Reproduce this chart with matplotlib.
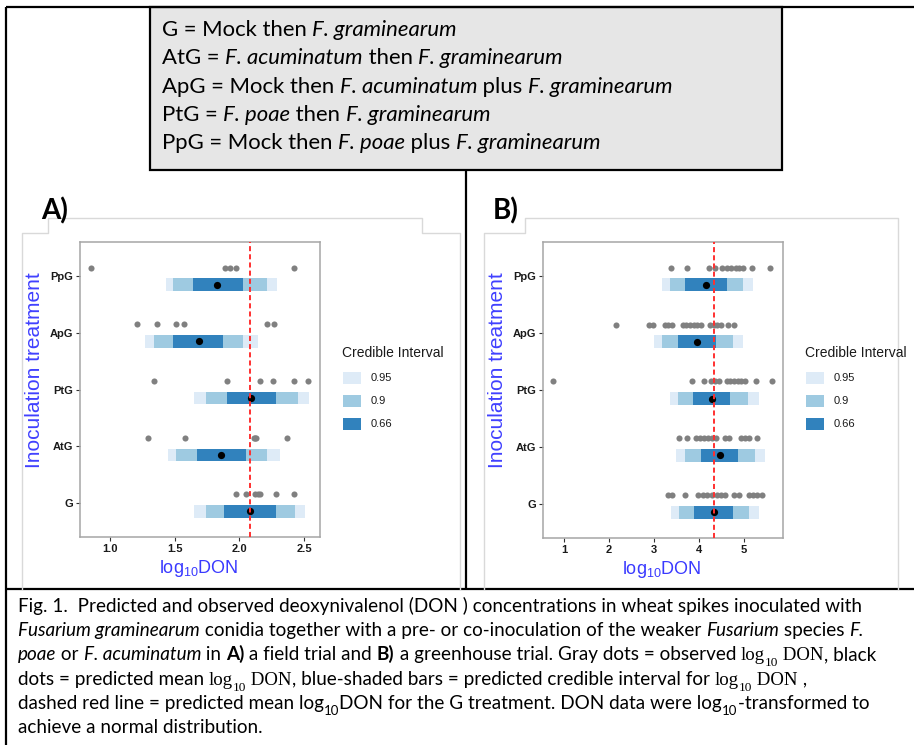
import matplotlib

matplotlib.use("Agg")
import matplotlib.pyplot as plt
from matplotlib.patches import Rectangle

W, H = 914, 745

treatments = ["G", "AtG", "PtG", "ApG", "PpG"]
levels = ["0.95", "0.9", "0.66"]
band_colors = ["#deebf7", "#9ecae1", "#3182bd"]

# A) field trial
field_mean = [2.08, 1.86, 2.09, 1.69, 1.83]
field_ci95 = [(1.65, 2.51), (1.45, 2.31), (1.65, 2.54), (1.27, 2.14), (1.43, 2.29)]
field_ci90 = [(1.74, 2.43), (1.51, 2.21), (1.74, 2.45), (1.34, 2.03), (1.49, 2.21)]
field_ci66 = [(1.88, 2.28), (1.67, 2.05), (1.90, 2.28), (1.49, 1.87), (1.64, 2.03)]
field_obs = {
    "G": [1.97, 2.05, 2.12, 2.14, 2.16, 2.28, 2.42],
    "AtG": [1.29, 1.58, 2.11, 2.12, 2.13, 2.37],
    "PtG": [1.34, 1.90, 2.16, 2.26, 2.42, 2.53],
    "ApG": [1.21, 1.36, 1.51, 1.57, 2.21, 2.27],
    "PpG": [0.85, 1.89, 1.93, 1.97, 2.42],
}
field_ref = 2.08
field_ticks = [1.0, 1.5, 2.0, 2.5]

# B) greenhouse trial
gh_mean = [4.33, 4.46, 4.29, 3.95, 4.16]
gh_ci95 = [(3.37, 5.33), (3.50, 5.46), (3.35, 5.33), (3.01, 4.98), (3.17, 5.20)]
gh_ci90 = [(3.55, 5.11), (3.70, 5.24), (3.53, 5.09), (3.18, 4.76), (3.35, 4.99)]
gh_ci66 = [(3.90, 4.76), (4.05, 4.88), (3.87, 4.70), (3.53, 4.39), (3.70, 4.62)]
gh_obs = {
    "G": [3.31, 3.41, 3.68, 3.99, 4.09, 4.19, 4.30, 4.40, 4.50, 4.59, 4.79, 4.89,
          5.11, 5.20, 5.30, 5.41],
    "AtG": [3.55, 3.73, 3.93, 4.02, 4.11, 4.20, 4.29, 4.38, 4.57, 4.66, 4.93, 5.03,
            5.12, 5.29],
    "PtG": [0.76, 3.85, 4.12, 4.28, 4.36, 4.44, 4.62, 4.70, 4.78, 4.86, 4.94, 5.02,
            5.27, 5.62],
    "ApG": [2.16, 2.90, 2.97, 3.24, 3.31, 3.40, 3.65, 3.72, 3.80, 3.88, 3.96, 4.04,
            4.24, 4.33, 4.41, 4.50, 4.64, 4.79],
    "PpG": [3.39, 3.74, 4.22, 4.35, 4.52, 4.62, 4.72, 4.82, 4.90, 4.98, 5.19, 5.59],
}
gh_ref = 4.33
gh_ticks = [1, 2, 3, 4, 5]

key_lines = [
    [("G = Mock then ", ""), ("F. graminearum", "i")],
    [("AtG = ", ""), ("F. acuminatum", "i"), (" then ", ""), ("F. graminearum", "i")],
    [("ApG = Mock then ", ""), ("F. acuminatum", "i"), (" plus ", ""), ("F. graminearum", "i")],
    [("PtG = ", ""), ("F. poae", "i"), (" then ", ""), ("F. graminearum", "i")],
    [("PpG = Mock then ", ""), ("F. poae", "i"), (" plus ", ""), ("F. graminearum", "i")],
]

caption_lines = [
    [("Fig. 1.  Predicted and observed deoxynivalenol (DON ) concentrations in wheat spikes inoculated with", "")],
    [("Fusarium graminearum", "i"), (" conidia together with a pre- or co-inoculation of the weaker ", ""),
     ("Fusarium", "i"), (" species ", ""), ("F.", "i")],
    [("poae", "i"), (" or ", ""), ("F. acuminatum", "i"), (" in ", ""), ("A)", "b"),
     (" a field trial and ", ""), ("B)", "b"), (" a greenhouse trial. Gray dots = observed ", ""),
     ("log", "s"), ("10", "s_"), (" DON", "s"), (", black", "")],
    [("dots = predicted mean ", ""), ("log", "s"), ("10", "s_"), (" DON", "s"),
     (", blue-shaded bars = predicted credible interval for ", ""), ("log", "s"), ("10", "s_"),
     (" DON", "s"), (" ,", "")],
    [("dashed red line = predicted mean log", ""), ("10", "_"),
     ("DON for the G treatment. DON data were log", ""), ("10", "_"), ("-transformed to", "")],
    [("achieve a normal distribution.", "")],
]

plt.rcParams["font.family"] = ["Liberation Sans", "DejaVu Sans"]
plt.rcParams["mathtext.fontset"] = "custom"
plt.rcParams["mathtext.rm"] = "Liberation Sans"
plt.rcParams["mathtext.it"] = "Liberation Sans:italic"

fig = plt.figure(figsize=(W / 100, H / 100), dpi=100)
bg = fig.add_axes([0, 0, 1, 1], zorder=-1)
bg.set_xlim(0, W)
bg.set_ylim(H, 0)
bg.axis("off")
renderer = fig.canvas.get_renderer()


def text_width(t):
    return t.get_window_extent(renderer).width


def rich_line(x, y, parts, size, family="Lato"):
    for s, style in parts:
        kw = dict(fontsize=size, family=family, va="baseline", ha="left")
        dy = 0
        if "i" in style:
            kw["style"] = "italic"
        if "b" in style:
            kw["weight"] = "bold"
        if "s" in style:
            kw["family"] = "Liberation Serif"
        if "_" in style:
            kw["fontsize"] = size * 0.7
            dy = size * 0.32 * 100 / 72
        probe = bg.text(0, 0, s + "|", **kw)
        pb = bg.text(0, 0, "|", **kw)
        w = text_width(probe) - text_width(pb)
        probe.remove()
        pb.remove()
        bg.text(x, y + dy, s, **kw)
        x += w


def seg(xs, ys, **kw):
    bg.plot(xs, ys, **kw)


# outer frame lines
black = dict(color="black", lw=1.6, solid_capstyle="butt")
seg([6, W], [7, 7], **black)
seg([6, 6], [7, H], **black)
seg([466, 466], [170, 589], **black)
seg([6, W], [589, 589], **black)
bg.add_patch(Rectangle((150, 7), 632, 163, facecolor="#e6e6e6", edgecolor="black", lw=1.6))

for i, line in enumerate(key_lines):
    rich_line(162, 36 + i * 28.3, line, 15.9)

# light frames of the pasted plot images
light = dict(color="#d9d9d9", lw=1.0)
seg([22, 22, 48, 48, 422, 422, 460, 460], [589, 233, 233, 218, 218, 233, 233, 589], **light)
seg([484, 484, 525, 525, 898, 898], [589, 233, 233, 218, 218, 589], **light)

bg.text(41, 219, "A)", fontsize=20, family="Lato", weight="bold", va="baseline")
bg.text(493, 219, "B)", fontsize=20, family="Lato", weight="bold", va="baseline")

for i, line in enumerate(caption_lines):
    rich_line(18, 612 + i * 24.2, line, 13.6)


def draw_panel(rect, means, ci95, ci90, ci66, obs, ref, xlim, ticks, ticklabels):
    ax = fig.add_axes(rect)
    ypos = list(range(1, len(treatments) + 1))
    for y, name in zip(ypos, treatments):
        vals = obs[name]
        ax.plot(vals, [y + 0.15] * len(vals), "o", color="#808080", ms=4.4, mec="none", zorder=2)
    low_y = [y - 0.15 for y in ypos]
    for ci, col in zip((ci95, ci90, ci66), band_colors):
        lo = [c[0] for c in ci]
        hi = [c[1] for c in ci]
        ax.barh(low_y, [h - l for l, h in zip(lo, hi)], left=lo, height=0.22, color=col, zorder=3)
    ax.plot(means, low_y, "o", color="black", ms=5.2, mec="none", zorder=4)
    ax.axvline(ref, color="#ff3030", ls=(0, (2.6, 1.6)), lw=1.4, zorder=5)
    ax.set_xlim(*xlim)
    ax.set_ylim(0.4, 5.6)
    ax.set_yticks(ypos, treatments)
    ax.set_xticks(ticks, ticklabels)
    for lab in ax.get_xticklabels() + ax.get_yticklabels():
        lab.set_fontweight("bold")
        lab.set_fontsize(8)
        lab.set_color("#1a1a1a")
    ax.tick_params(length=3, width=0.8, color="#333333", pad=2)
    for sp in ax.spines.values():
        sp.set_color("#a6a6a6")
        sp.set_linewidth(1.1)
    ax.set_xlabel(r"log$_{\mathrm{10}}$DON", fontsize=13, color="#3a3aff")
    ax.xaxis.set_label_coords(0.496, -0.07)
    ax.set_ylabel("Inoculation treatment", fontsize=15, color="#4040ff")
    ax.yaxis.set_label_coords(-0.148, 0.566)
    return ax


def px_rect(x0, y0, x1, y1):
    return [x0 / W, 1 - y1 / H, (x1 - x0) / W, (y1 - y0) / H]


draw_panel(px_rect(80, 242, 320, 537), field_mean, field_ci95, field_ci90, field_ci66,
           field_obs, field_ref, (0.767, 2.623), field_ticks, ["1.0", "1.5", "2.0", "2.5"])
draw_panel(px_rect(543, 242, 783, 538), gh_mean, gh_ci95, gh_ci90, gh_ci66,
           gh_obs, gh_ref, (0.533, 5.87), gh_ticks, [str(t) for t in gh_ticks])


def legend(x, y):
    bg.text(x, y, "Credible Interval", fontsize=10, va="center", ha="left", color="#1a1a1a")
    for i, (lab, col) in enumerate(zip(levels, band_colors)):
        yy = y + 25 + i * 23
        bg.add_patch(Rectangle((x + 1, yy - 6), 18, 12, facecolor=col, edgecolor="none"))
        bg.text(x + 29, yy, lab, fontsize=8, va="center", ha="left", color="#1a1a1a")


legend(342, 353)
legend(805, 353)

fig.savefig("out.png", dpi=100)
